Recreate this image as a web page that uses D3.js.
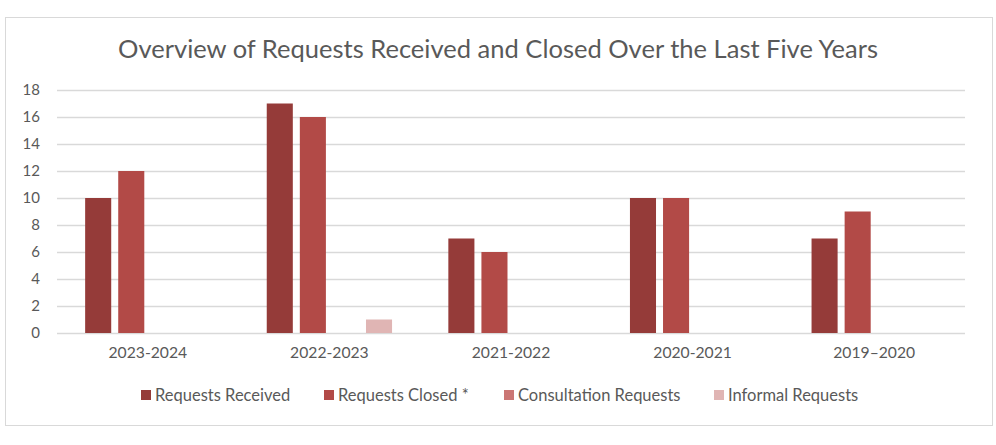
<!DOCTYPE html>
<html><head><meta charset="utf-8">
<script src="https://cdn.jsdelivr.net/npm/d3@7"></script>
<style>
html,body{margin:0;padding:0;background:#fff;}
text{font-family:Lato,"Open Sans",sans-serif;}
</style></head>
<body>
<svg id="chart" width="996" height="445"></svg>
<script>
const categories = ["2023-2024","2022-2023","2021-2022","2020-2021","2019\u20132020"];
const seriesNames = ["Requests Received","Requests Closed *","Consultation Requests","Informal Requests"];
const received = [10,17,7,10,7];
const closed = [12,16,6,10,9];
const consultation = [0,0,0,0,0];
const informal = [0,1,0,0,0];
const yTicks = [0,2,4,6,8,10,12,14,16,18];
const colors = ["#953B39","#B24A47","#CB7674","#E0B5B4"];
const seriesValues = [received, closed, consultation, informal];

(function(){
const svg = d3.select("#chart");

svg.append("rect").attr("x",5.5).attr("y",17.5).attr("width",987).attr("height",408)
  .attr("fill","#fff").attr("stroke","#D9D9D9").attr("stroke-width",1);

svg.append("text").attr("x",498).attr("y",58).attr("text-anchor","middle")
  .attr("font-size",25).attr("fill","#595959").attr("font-weight",400)
  .attr("textLength",760).attr("lengthAdjust","spacingAndGlyphs")
  .text("Overview of Requests Received and Closed Over the Last Five Years");

const pl = 57, pr = 965, pt = 90, pb = 333;
const y = d3.scaleLinear().domain([0,18]).range([pb, pt]);
const x0 = d3.scaleBand().domain(categories).range([pl,pr]).paddingInner(0.31).paddingOuter(0.155);
const x1 = d3.scaleBand().domain(seriesNames).range([0,x0.bandwidth()]).paddingInner(0.212).paddingOuter(0);

const yAxis = d3.axisLeft(y).tickValues(yTicks).tickSize(-(pr-pl)).tickPadding(17);
const gy = svg.append("g").attr("transform",`translate(${pl},0)`).call(yAxis);
gy.select(".domain").remove();
gy.selectAll(".tick line").attr("stroke","#D9D9D9").attr("stroke-width",1.3);
gy.selectAll(".tick text").attr("fill","#595959").attr("font-size",15).attr("font-family","Lato,sans-serif");

const groups = svg.append("g").selectAll("g").data(categories).join("g")
  .attr("transform",d=>`translate(${x0(d)},0)`);
groups.selectAll("rect").data((c,i)=>seriesNames.map((s,j)=>({s, v: seriesValues[j][i], j})))
  .join("rect")
  .attr("x",d=>x1(d.s)).attr("width",x1.bandwidth())
  .attr("y",d=>y(d.v)).attr("height",d=>y(0)-y(d.v))
  .attr("fill",d=>colors[d.j]);

const xAxis = d3.axisBottom(x0).tickSize(0).tickPadding(14);
const gx = svg.append("g").attr("transform",`translate(0,${pb})`).call(xAxis);
gx.select(".domain").remove();
gx.selectAll(".tick text").attr("fill","#595959").attr("font-size",15.7).attr("font-family","Lato,sans-serif");

const legendX = [141,324,504,714];
const leg = svg.append("g").selectAll("g").data(seriesNames).join("g")
  .attr("transform",(d,i)=>`translate(${legendX[i]},395)`);
leg.append("rect").attr("x",0).attr("y",-5).attr("width",10).attr("height",10).attr("fill",(d,i)=>colors[i]);
leg.append("text").attr("x",14).attr("y",0).attr("dy","0.35em").attr("font-size",16.5).attr("fill","#595959").text(d=>d);
})();
</script>
</body></html>
